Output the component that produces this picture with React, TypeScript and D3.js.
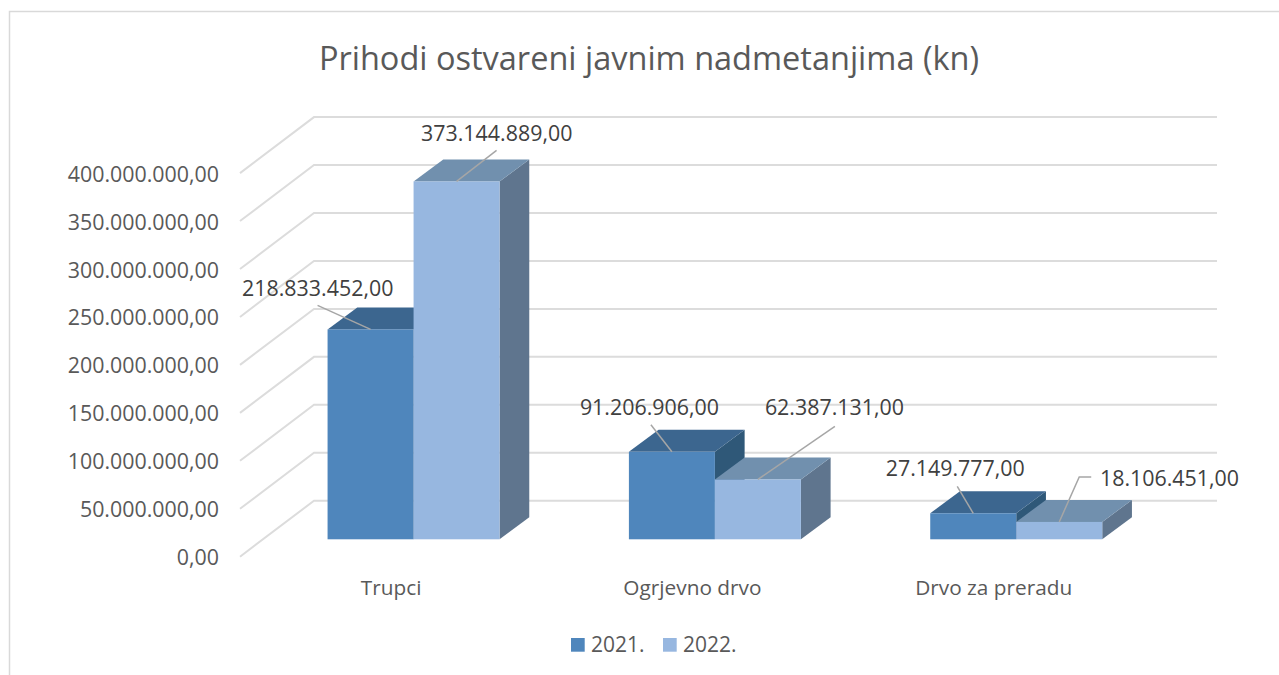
import React, { useEffect, useRef } from "react";
import * as d3 from "d3";

const categories = ["Trupci", "Ogrjevno drvo", "Drvo za preradu"];
const seriesNames = ["2021.", "2022."];
const values2021 = [218833452, 91206906, 27149777];
const values2022 = [373144889, 62387131, 18106451];
const yTicks = [0, 50000000, 100000000, 150000000, 200000000, 250000000, 300000000, 350000000, 400000000];

const FONT = "'Open Sans', sans-serif";

// label anchor + leader line, relative to the middle of the bar's top front edge
const leaders = [
  [
    { lx: -128.5, ly: -33, pts: [[0, 0], [-53, -24]] },
    { lx: -35.5, ly: -40, pts: [[0, 0], [40, -31]] },
  ],
  [
    { lx: -92, ly: -37, pts: [[0, 0], [-21, -27]] },
    { lx: 7, ly: -64.5, pts: [[0, 0], [77, -53]] },
  ],
  [
    { lx: -87.5, ly: -37, pts: [[0, 0], [-16, -27]] },
    { lx: 40.7, ly: -36, pts: [[0, 0], [20, -45], [32, -45]] },
  ],
];

const fmt = (v: number) => {
  const s = d3.format(",.2f")(v);
  return s.replace(/,/g, "#").replace(".", ",").replace(/#/g, ".");
};

export default function App() {
  const ref = useRef<SVGSVGElement>(null);

  useEffect(() => {
    if (!ref.current) return;
    const svg = d3.select(ref.current);
    svg.selectAll("*").remove();

    // frame
    svg
      .append("path")
      .attr("d", "M9.5,675V11.5H1279")
      .attr("fill", "none")
      .attr("stroke", "#d9d9d9")
      .attr("stroke-width", 1.5);

    svg
      .append("text")
      .attr("x", 649)
      .attr("y", 70)
      .attr("text-anchor", "middle")
      .style("font-size", "32.5px")
      .style("fill", "#595959")
      .text("Prihodi ostvareni javnim nadmetanjima (kn)");

    const h400 = 383.6;
    const baseY = 539.3;
    const value = d3.scaleLinear().domain([0, 400000000]).range([0, h400]);
    const frontY = (v: number) => 556.7 - value(v);
    const backY = (v: number) => 500.7 - value(v);
    const wallX0 = 240;
    const wallX1 = 314;
    const wallX2 = 1217;

    const grid = svg.append("g").attr("fill", "none").attr("stroke", "#dcdcdc").attr("stroke-width", 2);
    yTicks.forEach((t) => {
      grid
        .append("path")
        .attr("d", d3.line()([[wallX0, frontY(t)], [wallX1, backY(t)], [wallX2, backY(t)]]) as string);
    });

    svg
      .append("g")
      .selectAll("text")
      .data(yTicks)
      .enter()
      .append("text")
      .attr("x", 219)
      .attr("y", (d) => frontY(d) + 8.5)
      .attr("text-anchor", "end")
      .style("font-size", "21.4px")
      .style("fill", "#595959")
      .text((d) => fmt(d));

    const x0 = d3.scaleBand().domain(categories).range([262.9, 1166.9]);
    const x1 = d3
      .scaleBand()
      .domain(seriesNames)
      .range([x0.bandwidth() / 2 - 86, x0.bandwidth() / 2 + 86]);
    const depthX = 29.7;
    const depthY = 22;

    const palette = [
      { front: "#4f86bc", top: "#3c668f", side: "#2f5878" },
      { front: "#97b7e0", top: "#7190ae", side: "#5f758e" },
    ];

    categories.forEach((cat, ci) => {
      const g = svg.append("g");
      seriesNames.forEach((name, si) => {
        const v = si === 0 ? values2021[ci] : values2022[ci];
        const x = (x0(cat) as number) + (x1(name) as number);
        const w = x1.bandwidth();
        const top = baseY - value(v);
        const c = palette[si];
        g.append("path")
          .attr("d", `M${x + w},${baseY}L${x + w + depthX},${baseY - depthY}V${top - depthY}L${x + w},${top}Z`)
          .attr("fill", c.side);
        g.append("path")
          .attr("d", `M${x},${top}L${x + depthX},${top - depthY}H${x + w + depthX}L${x + w},${top}Z`)
          .attr("fill", c.top);
        g.append("rect")
          .attr("x", x)
          .attr("y", top)
          .attr("width", w)
          .attr("height", value(v))
          .attr("fill", c.front);
      });
    });

    // data labels with leader lines, on top of every bar
    categories.forEach((cat, ci) => {
      seriesNames.forEach((name, si) => {
        const v = si === 0 ? values2021[ci] : values2022[ci];
        const cx = (x0(cat) as number) + (x1(name) as number) + x1.bandwidth() / 2;
        const top = baseY - value(v);
        const l = leaders[ci][si];
        svg
          .append("path")
          .attr("d", d3.line()(l.pts.map(([a, b]) => [cx + a, top + b] as [number, number])) as string)
          .attr("fill", "none")
          .attr("stroke", "#a6a6a6")
          .attr("stroke-width", 1.5);
        svg
          .append("text")
          .attr("x", cx + l.lx)
          .attr("y", top + l.ly)
          .style("font-size", "21.4px")
          .style("fill", "#404040")
          .text(fmt(v));
      });
    });

    svg
      .append("g")
      .selectAll("text")
      .data(categories)
      .enter()
      .append("text")
      .attr("x", (d) => (x0(d) as number) + x0.bandwidth() / 2 - 22.5)
      .attr("y", 595)
      .attr("text-anchor", "middle")
      .style("font-size", "20.8px")
      .style("fill", "#595959")
      .text((d) => d);

    // legend
    const legendX = [571, 663];
    seriesNames.forEach((name, i) => {
      svg
        .append("rect")
        .attr("x", legendX[i])
        .attr("y", 638)
        .attr("width", 13.7)
        .attr("height", 13.7)
        .attr("fill", palette[i].front);
      svg
        .append("text")
        .attr("x", legendX[i] + 20)
        .attr("y", 652)
        .style("font-size", "21px")
        .style("fill", "#595959")
        .text(name);
    });
  }, []);

  return (
    <svg
      ref={ref}
      width={1279}
      height={675}
      style={{ position: "fixed", left: 0, top: 0, background: "#fff", fontFamily: FONT }}
    />
  );
}
